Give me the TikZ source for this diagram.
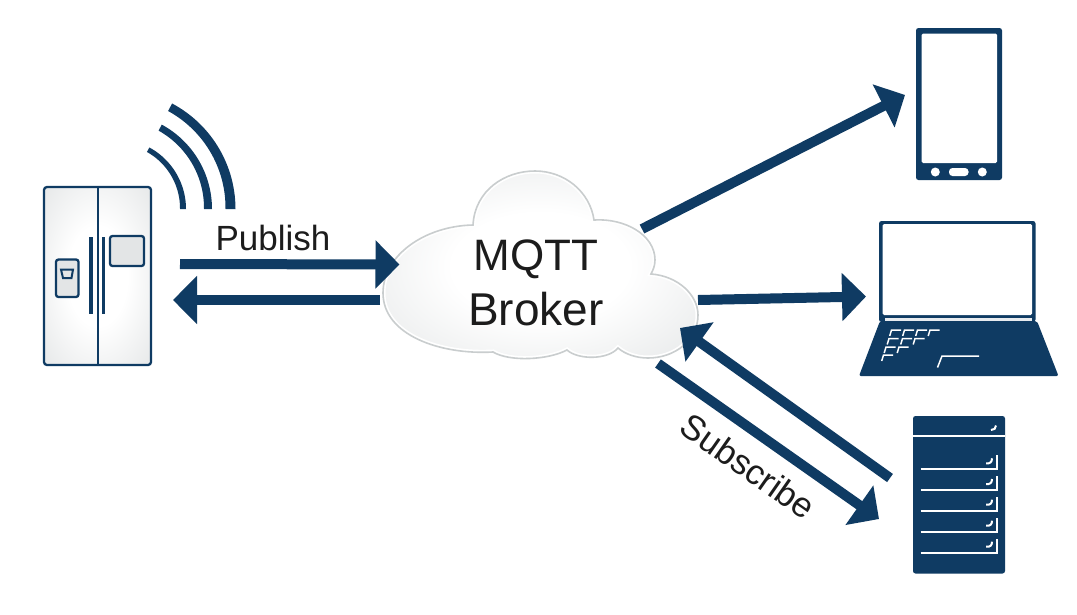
\documentclass[tikz,border=0pt]{standalone}
\usepackage{fontspec}
\setmainfont{Liberation Sans}
\usetikzlibrary{arrows.meta}
\definecolor{navy}{HTML}{0F3B63}
\definecolor{inktext}{HTML}{1C1C1C}
\definecolor{cloudedge}{HTML}{C9CDCE}
\definecolor{panelgrey}{HTML}{E3E5E6}
\definecolor{sheengrey}{HTML}{D8DBDC}
% Soft sheen: white in the middle, fading to pale grey at the edges
\pgfdeclareradialshading{softsheen}{\pgfpoint{0bp}{0bp}}{%
  color(0bp)=(white); color(14bp)=(white); color(48bp)=(sheengrey); color(72bp)=(sheengrey)}
\tikzset{
  link/.style={draw=navy,line width=10pt,-{Triangle[length=24pt,width=47pt]}},
  label/.style={inktext,inner sep=0pt},
  devline/.style={draw=navy,line width=2.3pt},
  keyline/.style={draw=white,line width=1.5pt},
  shelf/.style={draw=white,line width=2pt},
  anchorbox/.style={inner sep=0pt,minimum width=#1,draw=none},
  cloudoutline/.style={insert path={
    (473,225) .. controls (475,190) and (505,171) .. (535,171)
    .. controls (565,171) and (590,192) .. (594,220)
    .. controls (625,218) and (655,235) .. (655,260)
    .. controls (655,266) and (653,270) .. (651,274)
    .. controls (678,276) and (698,295) .. (698,315)
    .. controls (698,340) and (675,358) .. (648,358)
    .. controls (636,358) and (625,354) .. (618,348)
    .. controls (608,360) and (578,360) .. (567,350)
    .. controls (548,360) and (510,362) .. (493,352)
    .. controls (440,355) and (383,335) .. (383,293)
    .. controls (383,255) and (425,226) .. (473,225) -- cycle}},
}
% Radio wave: a band that narrows slightly towards its upper tip
\newcommand{\radiowave}[3]{%
  \fill[navy] plot[domain=0:#2,samples=30,smooth] ({116+(#1+#3/2)*cos(\x)},{209-(#1+#3/2)*sin(\x)})
    -- plot[domain=#2:0,samples=30,smooth] ({116+(#1-#3/2+0.15*#3*\x/#2)*cos(\x)},{209-(#1-#3/2+0.15*#3*\x/#2)*sin(\x)}) -- cycle;}
% Shelf of the server rack: an L-shaped slit with a small latch above it
\newcommand{\rackshelf}[1]{%
  \draw[shelf] (920.7,#1) -- (997,#1) -- (997,#1-14);
  \draw[white,line width=2pt] (986,#1-6) .. controls (990,#1-5.5) and (992,#1-7) .. (992,#1-11);}
% One key of the laptop keyboard
\newcommand{\lapkey}[2]{\draw[keyline] (#1-1.8,#2+6) -- (#1,#2) -- (#1+9.5,#2);}
\begin{document}
\begin{tikzpicture}[x=1pt,y=-1pt]
\useasboundingbox (0,0) rectangle (1077,614);
\fill[white] (0,0) rectangle (1077,614);

% Refrigerator
\node[anchorbox=107pt,minimum height=178pt,anchor=north west] (fridge) at (44,187) {};
\draw[devline,rounded corners=3pt,shading=softsheen] (44,187) rectangle (151,365);
\draw[devline] (97.7,187) -- (97.7,365);
\draw[navy,line width=3.2pt] (91,237) -- (91,314);
\draw[navy,line width=3.2pt] (103.5,237) -- (103.5,314);
\draw[devline,fill=panelgrey,rounded corners=2.5pt] (110,236) rectangle (144,266);
\draw[devline,fill=panelgrey,rounded corners=2.5pt] (56,259.5) rectangle (78.5,297);
\draw[devline,line width=2pt] (61,269.5) -- (73,269.5) -- (71.5,278) -- (63,278) -- cycle;

% Radio waves
\radiowave{67}{61.5}{6}
\radiowave{92}{61.5}{8}
\radiowave{114.5}{62}{10}

% Broker cloud with a pale rim inside its outline
\shade[shading=softsheen,cloudoutline];
\begin{scope}
  \clip[cloudoutline];
  \draw[white,line width=5pt,cloudoutline];
\end{scope}
\draw[cloudedge,line width=1.6pt,cloudoutline];
\node[label,align=center,font=\fontsize{46}{55}\selectfont] (broker) at (536,283) {{\fontsize{44}{55}\selectfont MQTT}\\Broker};

% Phone
\fill[navy,rounded corners=2.5pt] (916,28) rectangle (1002,180);
\fill[white,rounded corners=1.5pt] (921.5,33.5) rectangle (997,163);
\fill[white] (935.3,172) circle (4.5pt) (982.3,172) circle (4.5pt);
\fill[white,rounded corners=3.5pt] (949,168) rectangle (968.5,176);
\node[anchorbox=86pt,minimum height=152pt,anchor=north west] (phone) at (916,28) {};

% Laptop
\fill[navy,rounded corners=2.5pt] (879,221) rectangle (1035.5,322);
\fill[white,rounded corners=1.5pt] (882.5,224) rectangle (1032,315);
\fill[white!90!navy] (885,317.5) rectangle (1032,320.5);
\fill[navy,rounded corners=2pt] (880,321) -- (1037,321) -- (1058.5,376) -- (859,376) -- cycle;
\lapkey{891.5}{330}\lapkey{904.5}{330}\lapkey{917.5}{330}\lapkey{930}{330}
\lapkey{889}{338.5}\lapkey{902.5}{338.5}\lapkey{915}{338.5}
\lapkey{886}{347}\lapkey{899}{347}
\lapkey{883.5}{355}
\draw[keyline] (937.5,367.5) -- (942,356) -- (979,356);
\node[anchorbox=199pt,minimum height=155pt,anchor=north west] (laptop) at (859,221) {};

% Server rack
\fill[navy,rounded corners=2.5pt] (913,416) rectangle (1005,573.5);
\draw[white,line width=2pt] (913,436) -- (1005,436);
\draw[white,line width=2pt] (991,430) .. controls (994,430) and (996,428.5) .. (996,425.5);
\rackshelf{469.3}\rackshelf{490}\rackshelf{510.7}\rackshelf{531.7}\rackshelf{552.7}
\node[anchorbox=92pt,minimum height=157pt,anchor=north west] (rack) at (913,416) {};

% Connector end points around the devices and the cloud
\coordinate (pubA) at (180,264);   \coordinate (pubB) at (399.5,264.5);
\coordinate (retA) at (380,300);   \coordinate (retB) at (173,300);
\coordinate (phoA) at (642,229);   \coordinate (phoB) at (905,95);
\coordinate (lapA) at (698,300);   \coordinate (lapB) at (866,296.5);
\coordinate (srvA) at (890,478);   \coordinate (srvB) at (680,328);
\coordinate (subA) at (658,363.5); \coordinate (subB) at (879,519);

\draw[link] (pubA) -- (pubB);
\draw[link] (retA) -- (retB);
\draw[link] (phoA) -- (phoB);
\draw[link] (lapA) -- (lapB);
\draw[link] (srvA) -- (srvB);
\draw[link] (subA) -- (subB);

\node[label,font=\fontsize{35}{42}\selectfont] (publish) at (273,238) {Publish};
\node[label,font=\fontsize{35}{42}\selectfont,rotate=-35] (subscribe) at (748,466) {Subscribe};
\end{tikzpicture}
\end{document}
